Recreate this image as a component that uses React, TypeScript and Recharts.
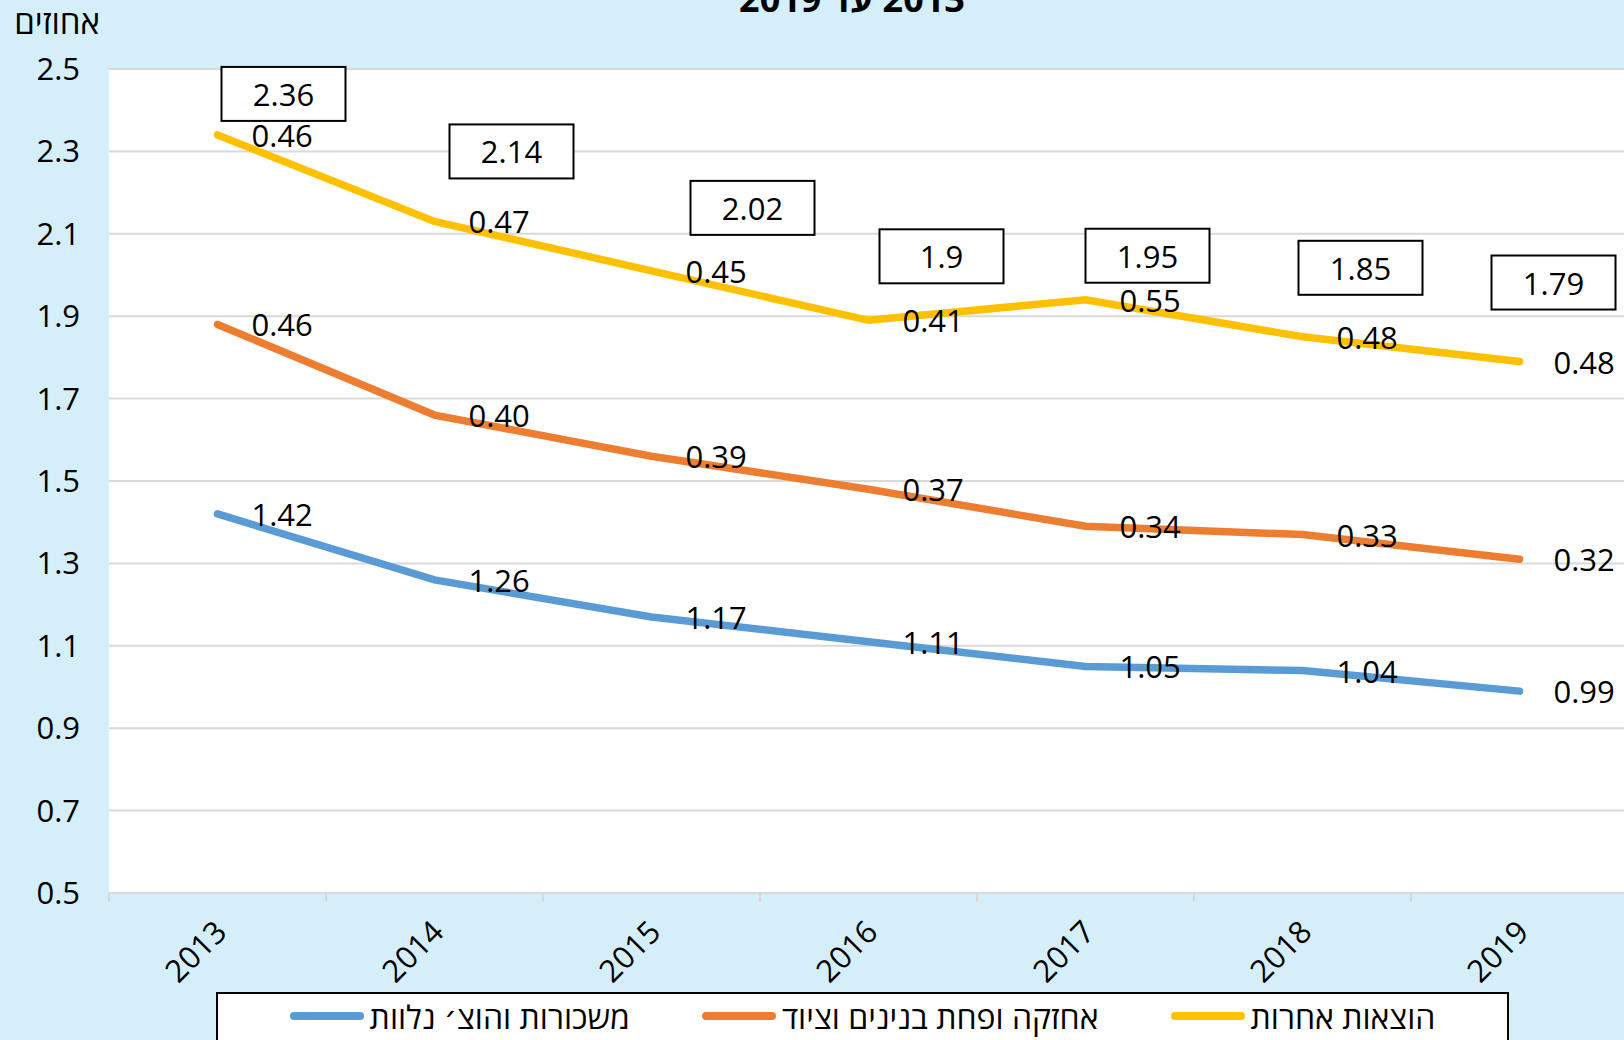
import React from "react";
import {
  LineChart,
  Line,
  XAxis,
  YAxis,
  CartesianGrid,
  LabelList,
} from "recharts";

// data
const years = ["2013", "2014", "2015", "2016", "2017", "2018", "2019"];
const salaries = [1.42, 1.26, 1.17, 1.11, 1.05, 1.04, 0.99];
const maintenance = [0.46, 0.4, 0.39, 0.37, 0.34, 0.33, 0.32];
const otherCosts = [0.46, 0.47, 0.45, 0.41, 0.55, 0.48, 0.48];
const totals = [2.36, 2.14, 2.02, 1.9, 1.95, 1.85, 1.79];
const yTicks = [0.5, 0.7, 0.9, 1.1, 1.3, 1.5, 1.7, 1.9, 2.1, 2.3, 2.5];

const seriesNames = ["משכורות והוצ׳ נלוות", "אחזקה ופחת בנינים וציוד", "הוצאות אחרות"];
const colors = ["#5B9BD5", "#ED7D31", "#FFC000"];

// lines are drawn stacked: each line is the running sum
const data = years.map((y, i) => ({
  year: y,
  s1: salaries[i],
  s2: +(salaries[i] + maintenance[i]).toFixed(2),
  s3: +(salaries[i] + maintenance[i] + otherCosts[i]).toFixed(2),
}));

// manual nudges for the total boxes (dx, dy from the top line point)
const boxNudge = [
  [66, -41],
  [77, -70],
  [101, -63],
  [73, -64],
  [62, -44],
  [58, -69],
  [34, -79],
];

const FONT = "'Open Sans', 'DejaVu Sans', sans-serif";
const FS = 31;
const W = 1640;
const H = 1040;
const LEFT = 109;
const RIGHT_M = 12;
const TOP = 69;
const XAXIS_H = 147;
const BAND = (W - LEFT - RIGHT_M) / years.length;
const BG = "#D4EEFA";
const GRID = "#D9D9D9";

const getXY = (p: any) => ({
  x: p.x ?? p.viewBox?.x,
  y: p.y ?? p.viewBox?.y,
});

const valueLabel = (values: number[]) => (p: any) => {
  const { x, y } = getXY(p);
  const v = values[p.index];
  return (
    <text
      x={x + 34}
      y={y}
      dominantBaseline="central"
      fontSize={FS}
      fontFamily={FONT}
      fill="#000"
    >
      {v.toFixed(2)}
    </text>
  );
};

const totalBox = (p: any) => {
  const { x, y } = getXY(p);
  const [dx, dy] = boxNudge[p.index];
  const cx = x + dx;
  const cy = y + dy;
  return (
    <g>
      <rect x={cx - 62} y={cy - 27} width={124} height={54} fill="#fff" stroke="#000" strokeWidth={2} />
      <text x={cx} y={cy} textAnchor="middle" dominantBaseline="central" fontSize={FS} fontFamily={FONT} fill="#000">
        {String(totals[p.index])}
      </text>
    </g>
  );
};

const YearTick = (p: any) => {
  const { x, index, payload } = p;
  const by = H - XAXIS_H;
  return (
    <g>
      <line x1={x - BAND / 2} x2={x - BAND / 2} y1={by} y2={by + 9} stroke={GRID} strokeWidth={2} />
      {index === years.length - 1 && (
        <line x1={x + BAND / 2} x2={x + BAND / 2} y1={by} y2={by + 9} stroke={GRID} strokeWidth={2} />
      )}
      <text
        x={x + 11}
        y={by + 41}
        textAnchor="end"
        transform={`rotate(-45 ${x + 11} ${by + 41})`}
        fontSize={FS}
        fontFamily={FONT}
        fill="#000"
      >
        {payload.value}
      </text>
    </g>
  );
};

const App = () => {
  return (
    <div
      style={{
        position: "absolute",
        left: 0,
        top: 0,
        width: 1624,
        height: 1040,
        overflow: "hidden",
        background: BG,
        fontFamily: FONT,
      }}
    >
      <div
        style={{
          position: "absolute",
          left: 0,
          width: 1704,
          top: -19,
          textAlign: "center",
          direction: "rtl",
          fontSize: 36,
          lineHeight: "36px",
          fontWeight: 700,
        }}
      >
        2013 עד 2019
      </div>
      <div
        style={{
          position: "absolute",
          right: 1624 - 100,
          top: 4,
          direction: "rtl",
          fontSize: 33,
          lineHeight: "36px",
          whiteSpace: "nowrap",
        }}
      >
        אחוזים
      </div>
      <div style={{ position: "absolute", left: 0, top: 0 }}>
        <LineChart width={W} height={H} data={data} margin={{ top: TOP, right: RIGHT_M, left: 0, bottom: 0 }}>
          <CartesianGrid vertical={false} stroke={GRID} strokeWidth={2} fill="#fff" />
          <XAxis
            dataKey="year"
            height={XAXIS_H}
            padding={{ left: BAND / 2, right: BAND / 2 }}
            axisLine={{ stroke: GRID, strokeWidth: 2 }}
            tickLine={false}
            tick={<YearTick />}
            interval={0}
          />
          <YAxis
            width={LEFT}
            domain={[0.5, 2.5]}
            ticks={yTicks}
            axisLine={false}
            tickLine={false}
            tickMargin={23}
            tickFormatter={(v: number) => v.toFixed(1)}
            tick={{ fontSize: FS, fill: "#000", fontFamily: FONT }}
          />
          <Line
            dataKey="s1"
            stroke={colors[0]}
            strokeWidth={7.5}
            strokeLinecap="round"
            dot={false}
            isAnimationActive={false}
          >
            <LabelList dataKey="s1" content={valueLabel(salaries)} />
          </Line>
          <Line
            dataKey="s2"
            stroke={colors[1]}
            strokeWidth={7.5}
            strokeLinecap="round"
            dot={false}
            isAnimationActive={false}
          >
            <LabelList dataKey="s2" content={valueLabel(maintenance)} />
          </Line>
          <Line
            dataKey="s3"
            stroke={colors[2]}
            strokeWidth={7.5}
            strokeLinecap="round"
            dot={false}
            isAnimationActive={false}
          >
            <LabelList dataKey="s3" content={valueLabel(otherCosts)} />
            <LabelList dataKey="s3" content={totalBox} />
          </Line>
        </LineChart>
      </div>
      <div
        style={{
          position: "absolute",
          left: 216,
          top: 992,
          width: 1293,
          height: 60,
          boxSizing: "border-box",
          border: "2px solid #000",
          background: "#fff",
          display: "flex",
          justifyContent: "center",
          alignItems: "flex-start",
          paddingTop: 2,
          gap: 72,
        }}
      >
        {seriesNames.map((n, i) => (
          <div key={n} style={{ display: "flex", alignItems: "center", height: 40 }}>
            <span
              style={{
                display: "inline-block",
                width: 74,
                height: 8,
                borderRadius: 4,
                background: colors[i],
                marginRight: 6,
              }}
            />
            <span style={{ direction: "rtl", fontSize: 32, whiteSpace: "nowrap" }}>{n}</span>
          </div>
        ))}
      </div>
    </div>
  );
};

export default App;
